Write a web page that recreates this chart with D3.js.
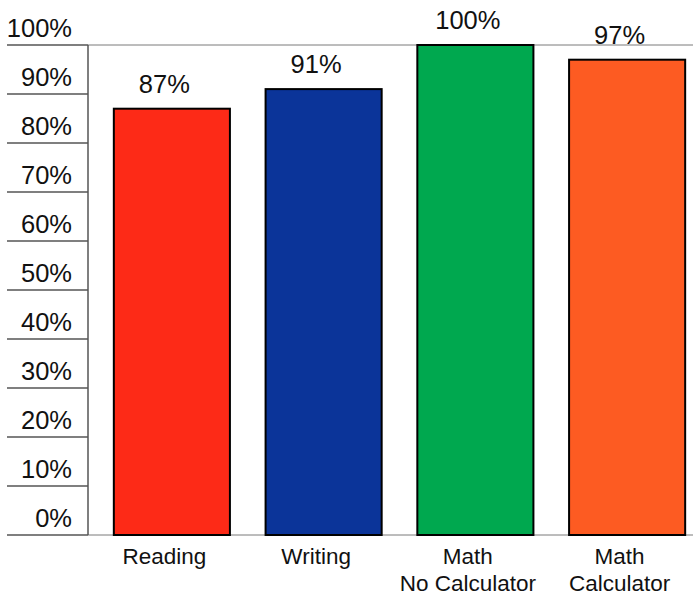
<!DOCTYPE html>
<html>
<head>
<meta charset="utf-8">
<script src="https://cdn.jsdelivr.net/npm/d3@7"></script>
<style>
  body { margin: 0; background: #fff; }
  text { font-family: "Liberation Sans", Arial, Helvetica, sans-serif; fill: #111; }
</style>
</head>
<body>
<svg id="chart" width="693" height="600"></svg>
<script>
const categories = [["Reading"], ["Writing"], ["Math", "No Calculator"], ["Math", "Calculator"]];
const values = [87, 91, 100, 97];
const colors = ["#fd2a17", "#0b3499", "#00a84f", "#fd5b22"];
const tickValues = [0, 10, 20, 30, 40, 50, 60, 70, 80, 90, 100];

const svg = d3.select("#chart");
const axisX = 88, plotTop = 45, plotBottom = 535;
// labels in the original sit a little left of the bar centres
const labelShift = -7.5;

const y = d3.scaleLinear().domain([0, 100]).range([plotBottom, plotTop]);
const x = d3.scaleBand()
  .domain(d3.range(categories.length))
  .range([96, 703])
  .paddingInner(0.235)
  .paddingOuter(0.1175);

// light gray frame lines at 100% and 0%
svg.append("g").selectAll("line")
  .data([100, 0])
  .join("line")
  .attr("x1", axisX).attr("x2", 693)
  .attr("y1", d => y(d)).attr("y2", d => y(d))
  .attr("stroke", "#7a7a7a").attr("stroke-width", 1);

// tick lines on the left, label sits above each line
const ticks = svg.append("g");
ticks.selectAll("line")
  .data(tickValues)
  .join("line")
  .attr("x1", 7).attr("x2", axisX)
  .attr("y1", d => y(d)).attr("y2", d => y(d))
  .attr("stroke", "#555").attr("stroke-width", 1.5);

ticks.selectAll("text")
  .data(tickValues)
  .join("text")
  .attr("x", 72)
  .attr("y", d => y(d) - 8.5)
  .attr("text-anchor", "end")
  .style("font-size", "25.5px")
  .text(d => d + "%");

svg.append("line")
  .attr("x1", axisX).attr("x2", axisX)
  .attr("y1", plotTop).attr("y2", plotBottom)
  .attr("stroke", "#555").attr("stroke-width", 1.5);

// bars
svg.append("g").selectAll("rect")
  .data(values)
  .join("rect")
  .attr("x", (d, i) => x(i))
  .attr("y", d => y(d))
  .attr("width", x.bandwidth())
  .attr("height", d => plotBottom - y(d))
  .attr("fill", (d, i) => colors[i])
  .attr("stroke", "#000")
  .attr("stroke-width", 2);

// value labels
svg.append("g").selectAll("text")
  .data(values)
  .join("text")
  .attr("x", (d, i) => x(i) + x.bandwidth() / 2 + labelShift)
  .attr("y", d => y(d) - 16)
  .attr("text-anchor", "middle")
  .style("font-size", "25.5px")
  .text(d => d + "%");

// category labels
const cats = svg.append("g").selectAll("text")
  .data(categories)
  .join("text")
  .attr("text-anchor", "middle")
  .style("font-size", "22.5px")
  .attr("transform", (d, i) => `translate(${x(i) + x.bandwidth() / 2 + labelShift},0)`);

cats.selectAll("tspan")
  .data(d => d)
  .join("tspan")
  .attr("x", 0)
  .attr("y", (d, j) => 564 + j * 27)
  .text(d => d);
</script>
</body>
</html>
